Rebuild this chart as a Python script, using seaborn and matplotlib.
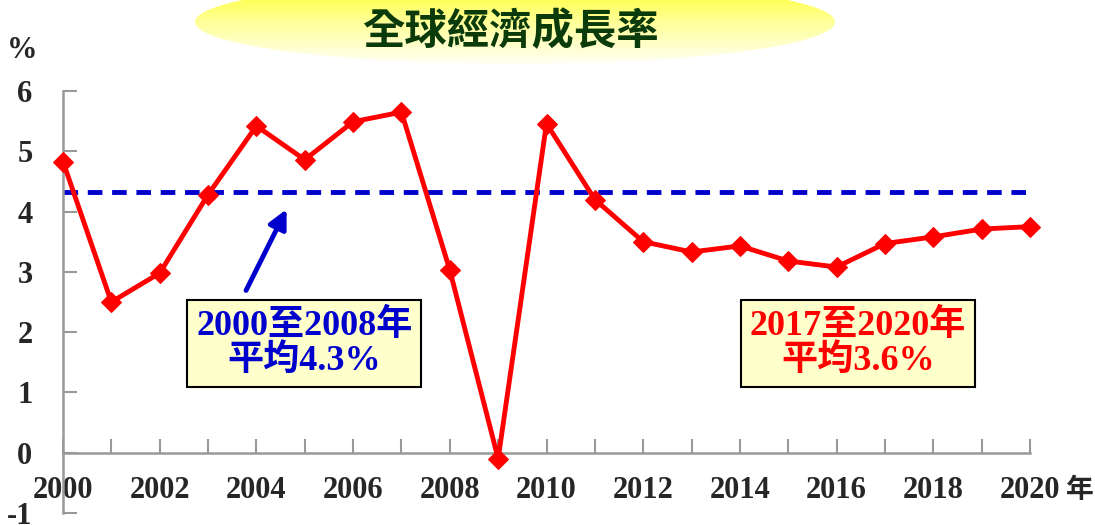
import numpy as np
import matplotlib
matplotlib.use('Agg')
import matplotlib.pyplot as plt
import seaborn as sns
from matplotlib.patches import Ellipse
from matplotlib.ticker import MultipleLocator

# Data
years = list(range(2000, 2021))
growth = [4.83, 2.50, 2.98, 4.28, 5.42, 4.86, 5.49, 5.65, 3.03, -0.10, 5.46,
          4.20, 3.50, 3.33, 3.43, 3.18, 3.08, 3.47, 3.58, 3.71, 3.75]
avg_2000_2008 = 4.33
year_labels = [str(y) for y in years[::2]]
y_ticks = list(range(-1, 7))

title = '全球經濟成長率'
box1_text = '2000至2008年\n平均4.3%'
box2_text = '2017至2020年\n平均3.6%'

sns.set_style('white')
plt.rcParams['font.family'] = ['Liberation Serif', 'Noto Sans CJK TC']
plt.rcParams['font.weight'] = 'bold'

fig = plt.figure(figsize=(10.95, 5.25), dpi=100)
W, H = 1095, 525

# title ellipse with vertical yellow gradient
tax = fig.add_axes([0, 0, 1, 1], zorder=0)
tax.set_xlim(0, W)
tax.set_ylim(H, 0)
tax.axis('off')
ell = Ellipse((515, 22), 640, 84, facecolor='none', edgecolor='none')
tax.add_patch(ell)
grad = np.linspace(0, 1, 100).reshape(-1, 1)
cmap = matplotlib.colors.LinearSegmentedColormap.from_list('yl', ['#FFFFF4', '#FFFF99', '#FFFF22'])
im = tax.imshow(grad, cmap=cmap, extent=(195, 835, -20, 64), aspect='auto', origin='upper')
im.set_clip_path(ell)
tax.text(510, 32, title, ha='center', va='center', fontsize=30.5, color='#0B3B0B',
         family=['Noto Sans CJK TC'], fontweight='bold')
tax.text(22, 50, '%', ha='center', va='center', fontsize=22, fontweight='bold')
tax.text(1080, 490, '年', ha='center', va='center', fontsize=20, fontweight='bold',
         family=['Noto Sans CJK TC'])

ax = fig.add_axes([63 / W, 12 / H, 967 / W, 422 / H], zorder=1)
ax.patch.set_alpha(0)

sns.lineplot(x=years, y=growth, ax=ax, color='#FF0000', linewidth=3.5,
             marker='D', markersize=10, markeredgecolor='#FF0000', clip_on=False, zorder=3)
ax.plot([years[0], years[-1]], [avg_2000_2008, avg_2000_2008], color='#0000CC',
        linewidth=3.5, linestyle=(0, (3, 2)), zorder=2)

ax.set_xlim(2000, 2020)
ax.set_ylim(-1, 6)
ax.set_xticks(years[::2])
ax.set_xticklabels(year_labels)
ax.xaxis.set_minor_locator(MultipleLocator(1))
ax.set_yticks(y_ticks)
ax.set_yticklabels([str(v) for v in y_ticks])

for s in ['top', 'right']:
    ax.spines[s].set_visible(False)
ax.spines['bottom'].set_position(('data', 0))
for s in ['left', 'bottom']:
    ax.spines[s].set_color('#999999')
    ax.spines[s].set_linewidth(1.8)

ax.tick_params(axis='x', which='both', bottom=True, direction='in', length=10, width=1.5,
               color='#999999', labelsize=22, pad=17)
ax.tick_params(axis='y', which='both', left=True, direction='in', length=10, width=1.5,
               color='#999999', labelsize=22, pad=22)
for lab in ax.get_xticklabels() + ax.get_yticklabels():
    lab.set_fontweight('bold')

ax.annotate('', xy=(2004.65, 4.08), xytext=(2003.76, 2.65),
            arrowprops=dict(arrowstyle='-|>', lw=3.5, color='#0000CC', mutation_scale=28))

box = dict(boxstyle='square,pad=0.25', facecolor='#FFFFCC', edgecolor='black', linewidth=1.5)
ax.text(2004.99, 1.81, box1_text, ha='center', va='center', fontsize=26, color='#0000CC',
        fontweight='bold', bbox=box, linespacing=1.05)
ax.text(2016.44, 1.81, box2_text, ha='center', va='center', fontsize=26, color='#FF0000',
        fontweight='bold', bbox=box, linespacing=1.05)

ax.set_xlabel('')
ax.set_ylabel('')
fig.savefig('out.png', dpi=100)
